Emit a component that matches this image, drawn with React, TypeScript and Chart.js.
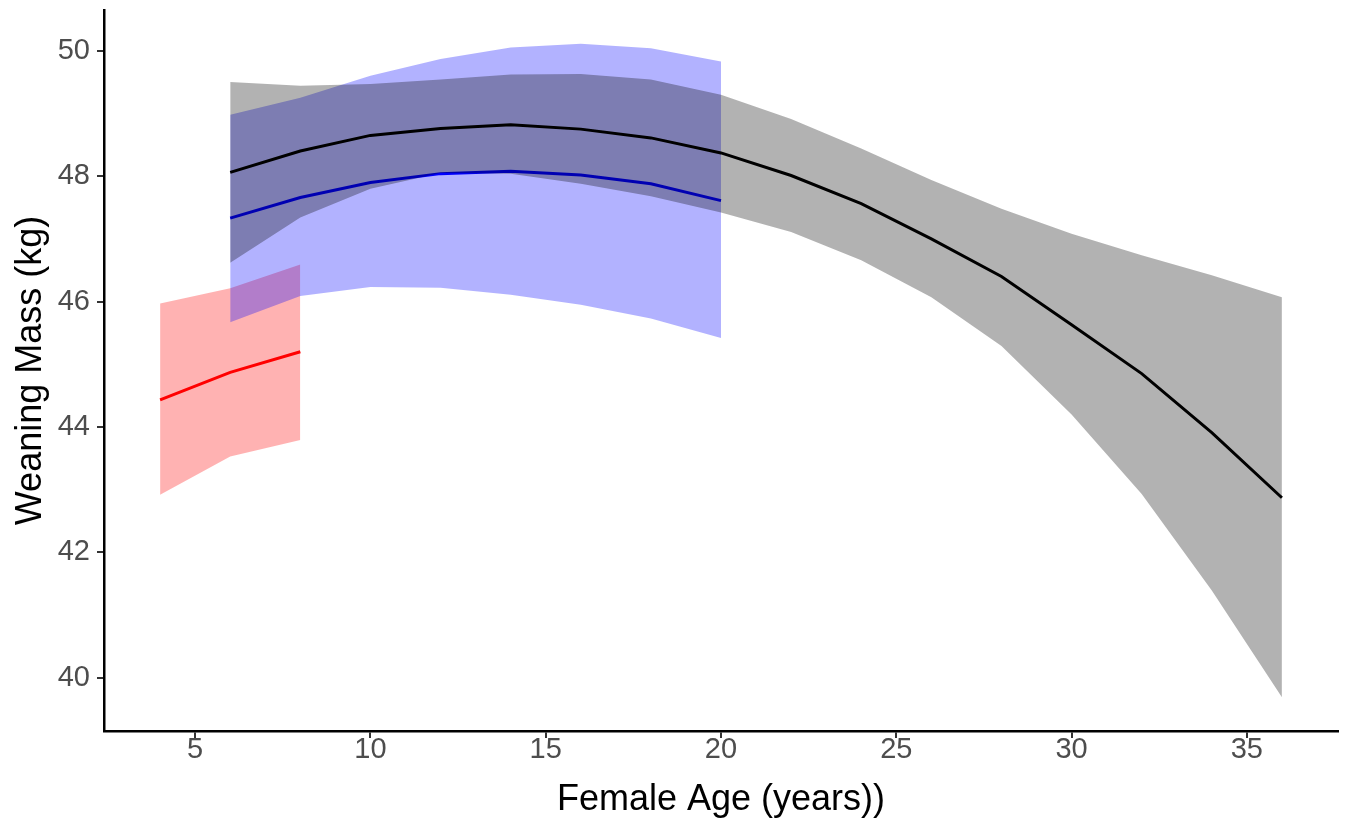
import React, { useEffect, useRef } from "react";
import { Chart, registerables } from "chart.js";

Chart.register(...registerables);

// Axis ticks
const xTickValues = [5, 10, 15, 20, 25, 30, 35];
const yTickValues = [40, 42, 44, 46, 48, 50];

// Overall (black) fit with grey confidence band
const ageAll = [6, 8, 10, 12, 14, 16, 18, 20, 22, 24, 26, 28, 30, 32, 34, 36];
const fitAll = [48.06, 48.4, 48.65, 48.76, 48.82, 48.75, 48.61, 48.37, 48.01, 47.56, 47.0, 46.4, 45.63, 44.85, 43.91, 42.87];
const upperAll = [49.5, 49.44, 49.47, 49.54, 49.62, 49.63, 49.54, 49.3, 48.91, 48.44, 47.94, 47.48, 47.08, 46.74, 46.42, 46.07];
const lowerAll = [46.62, 47.34, 47.8, 48.05, 48.04, 47.88, 47.68, 47.42, 47.11, 46.66, 46.07, 45.29, 44.2, 42.93, 41.39, 39.69];

// Blue group
const ageBlue = [6, 8, 10, 12, 14, 16, 18, 20];
const fitBlue = [47.33, 47.66, 47.9, 48.04, 48.08, 48.02, 47.88, 47.61];
const upperBlue = [48.98, 49.25, 49.6, 49.87, 50.05, 50.11, 50.04, 49.83];
const lowerBlue = [45.67, 46.09, 46.23, 46.22, 46.11, 45.95, 45.73, 45.42];

// Red group
const ageRed = [4, 6, 8];
const fitRed = [44.43, 44.87, 45.2];
const upperRed = [45.97, 46.21, 46.59];
const lowerRed = [42.92, 43.53, 43.79];

const toPts = (xs: number[], ys: number[]) => xs.map((x, i) => ({ x, y: ys[i] }));

const FONT = "'Liberation Sans', Arial, Helvetica, sans-serif";

export default function App() {
  const ref = useRef<HTMLCanvasElement | null>(null);

  useEffect(() => {
    if (!ref.current) return;
    const lineDs = (label: string, xs: number[], ys: number[], color: string, order: number) => ({
      label,
      data: toPts(xs, ys),
      borderColor: color,
      borderWidth: 3,
      pointRadius: 0,
      fill: false,
      tension: 0,
      order,
    });
    const bandUpper = (label: string, xs: number[], ys: number[], fillColor: string, order: number) => ({
      label,
      data: toPts(xs, ys),
      borderWidth: 0,
      borderColor: "rgba(0,0,0,0)",
      backgroundColor: fillColor,
      pointRadius: 0,
      fill: "+1",
      tension: 0,
      order,
    });
    const bandLower = (label: string, xs: number[], ys: number[], order: number) => ({
      label,
      data: toPts(xs, ys),
      borderWidth: 0,
      borderColor: "rgba(0,0,0,0)",
      pointRadius: 0,
      fill: false,
      tension: 0,
      order,
    });

    const chart = new Chart(ref.current, {
      type: "line",
      data: {
        datasets: [
          lineDs("All", ageAll, fitAll, "#000000", 0),
          bandUpper("All upper", ageAll, upperAll, "rgba(0,0,0,0.3)", 1),
          bandLower("All lower", ageAll, lowerAll, 1),
          lineDs("Blue", ageBlue, fitBlue, "#0000FF", 2),
          bandUpper("Blue upper", ageBlue, upperBlue, "rgba(0,0,255,0.3)", 3),
          bandLower("Blue lower", ageBlue, lowerBlue, 3),
          lineDs("Red", ageRed, fitRed, "#FF0000", 4),
          bandUpper("Red upper", ageRed, upperRed, "rgba(255,0,0,0.3)", 5),
          bandLower("Red lower", ageRed, lowerRed, 5),
        ] as any,
      },
      options: {
        animation: false,
        responsive: false,
        devicePixelRatio: 1,
        layout: { padding: { top: 10, right: 12, left: 0, bottom: 0 } },
        plugins: {
          legend: { display: false },
          tooltip: { enabled: false },
        },
        scales: {
          x: {
            type: "linear",
            min: 2.4,
            max: 37.6,
            afterBuildTicks: (s: any) => {
              s.ticks = xTickValues.map((v) => ({ value: v }));
            },
            afterFit: (s: any) => {
              s.height = 89;
              s.paddingLeft = 0;
              s.paddingRight = 0;
            },
            grid: {
              drawOnChartArea: false,
              drawTicks: true,
              tickLength: 7,
              color: "#333333",
              lineWidth: 2,
            },
            border: { display: true, color: "#000000", width: 2.5 },
            ticks: {
              color: "#4D4D4D",
              font: { family: FONT, size: 29 },
              padding: -5,
              maxRotation: 0,
              autoSkip: false,
            },
            title: {
              display: true,
              text: "Female Age (years))",
              color: "#000000",
              font: { family: FONT, size: 36, lineHeight: 1.2 },
              padding: { top: 0, bottom: -2 },
            },
          },
          y: {
            type: "linear",
            min: 39.15,
            max: 50.65,
            afterBuildTicks: (s: any) => {
              s.ticks = yTickValues.map((v) => ({ value: v }));
            },
            afterFit: (s: any) => {
              s.width = 104;
              s.paddingTop = 0;
              s.paddingBottom = 0;
            },
            grid: {
              drawOnChartArea: false,
              drawTicks: true,
              tickLength: 7,
              color: "#333333",
              lineWidth: 2,
            },
            border: { display: true, color: "#000000", width: 2.5 },
            ticks: {
              color: "#4D4D4D",
              font: { family: FONT, size: 29 },
              padding: 7,
              autoSkip: false,
            },
            title: {
              display: true,
              text: "Weaning Mass (kg)",
              color: "#000000",
              font: { family: FONT, size: 36, lineHeight: 1.2 },
              padding: { top: 9, bottom: 0 },
            },
          },
        },
      } as any,
    });
    return () => chart.destroy();
  }, []);

  return (
    <div style={{ position: "absolute", left: 0, top: 0, width: 1350, height: 820, background: "#ffffff" }}>
      <canvas ref={ref} width={1350} height={820} />
    </div>
  );
}
